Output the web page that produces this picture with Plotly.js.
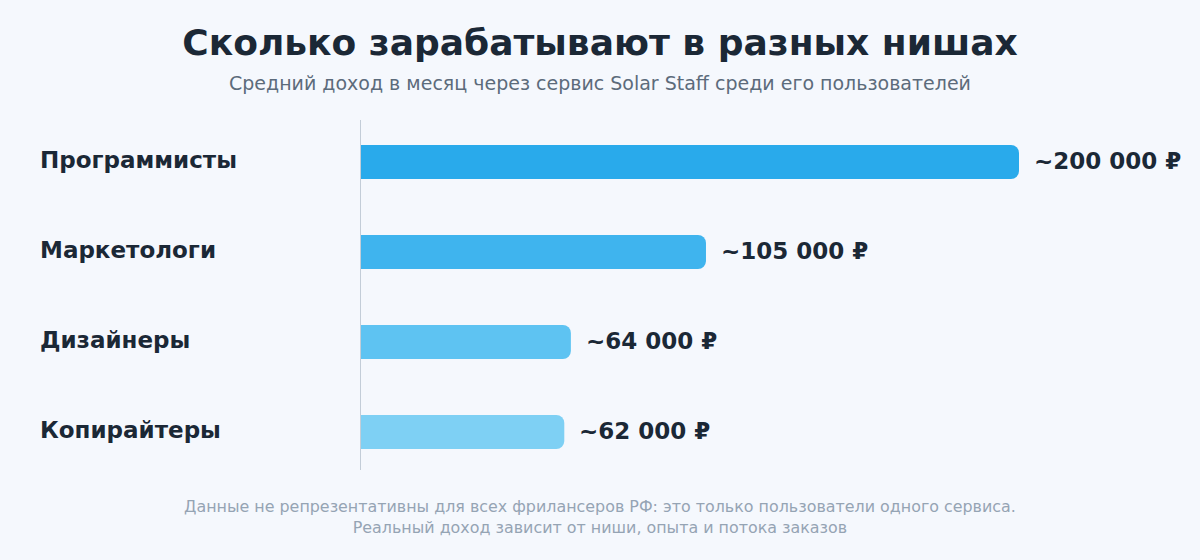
<!DOCTYPE html>
<html>
<head>
<meta charset="utf-8">
<script src="https://cdn.plot.ly/plotly-3.0.1.min.js"></script>
<style>
  html, body { margin: 0; padding: 0; background: #f5f8fd; }
  #chart { width: 1200px; height: 560px; }
</style>
</head>
<body>
<div id="chart"></div>
<script>
var niches = ['Программисты', 'Маркетологи', 'Дизайнеры', 'Копирайтеры'];
var income = [200000, 105000, 64000, 62000];
var barColors = ['#29aaeb', '#3fb4ee', '#5ec3f2', '#7ed0f4'];

function fmt(v) {
    return '~' + String(v).replace(/\B(?=(\d{3})+(?!\d))/g, ' ') + ' ₽';
}

var font = 'DejaVu Sans, sans-serif';
var dark = '#1b2836';
// page centre expressed in plot-area paper units (plot spans 360..1020px)
var midX = (600 - 360) / 660;

var trace = {
    type: 'bar',
    orientation: 'h',
    y: niches,
    x: income,
    width: 0.38,
    marker: { color: barColors, cornerradius: 8 },
    hoverinfo: 'skip'
};

var annotations = [];
niches.forEach(function (n, i) {
    annotations.push({
        x: 0, xref: 'paper', y: n, yref: 'y',
        xanchor: 'left', text: '<b>' + n + '</b>',
        showarrow: false, xshift: -322, yshift: 2,
        font: { family: font, size: 23, color: dark }
    });
    annotations.push({
        x: income[i], xref: 'x', y: n, yref: 'y',
        xanchor: 'left', text: '<b>' + fmt(income[i]) + '</b>',
        showarrow: false, xshift: 13, yshift: 1,
        font: { family: font, size: 23, color: dark }
    });
});

annotations.push({
    x: midX, xref: 'paper', xanchor: 'center',
    y: 1, yref: 'paper', yanchor: 'middle', yshift: 117 - 83,
    text: 'Средний доход в месяц через сервис Solar Staff среди его пользователей',
    showarrow: false,
    font: { family: font, size: 19, color: '#5c6b7b' }
});
annotations.push({
    x: midX, xref: 'paper', xanchor: 'center',
    y: 0, yref: 'paper', yanchor: 'top', yshift: -18,
    text: 'Данные не репрезентативны для всех фрилансеров РФ: это только пользователи одного сервиса.<br>Реальный доход зависит от ниши, опыта и потока заказов',
    showarrow: false, align: 'center',
    font: { family: font, size: 15.9, color: '#95a4b4' }
});

var layout = {
    width: 1200,
    height: 560,
    paper_bgcolor: '#f5f8fd',
    plot_bgcolor: '#f5f8fd',
    margin: { l: 360, r: 180, t: 117, b: 83, pad: 0 },
    showlegend: false,
    title: {
        text: '<b>Сколько зарабатывают в разных нишах</b>',
        x: 0.5, xanchor: 'center', y: 0.925, yanchor: 'middle',
        font: { family: font, size: 36, color: dark }
    },
    xaxis: {
        // 0 at 361px, 200000 at 1020px as in the reference
        range: [0, 200000 * 660 / 659], autorange: false,
        showgrid: false, zeroline: false, showticklabels: false, showline: false
    },
    yaxis: {
        autorange: 'reversed', showticklabels: false, showgrid: false,
        zeroline: false, showline: false
    },
    shapes: [{
        type: 'line', xref: 'x', yref: 'paper',
        x0: 0, x1: 0, y0: 0.0194, y1: 0.9917,
        line: { color: '#c3cdd8', width: 2 }
    }],
    annotations: annotations
};

Plotly.newPlot('chart', [trace], layout, { displayModeBar: false, staticPlot: true });
</script>
</body>
</html>
